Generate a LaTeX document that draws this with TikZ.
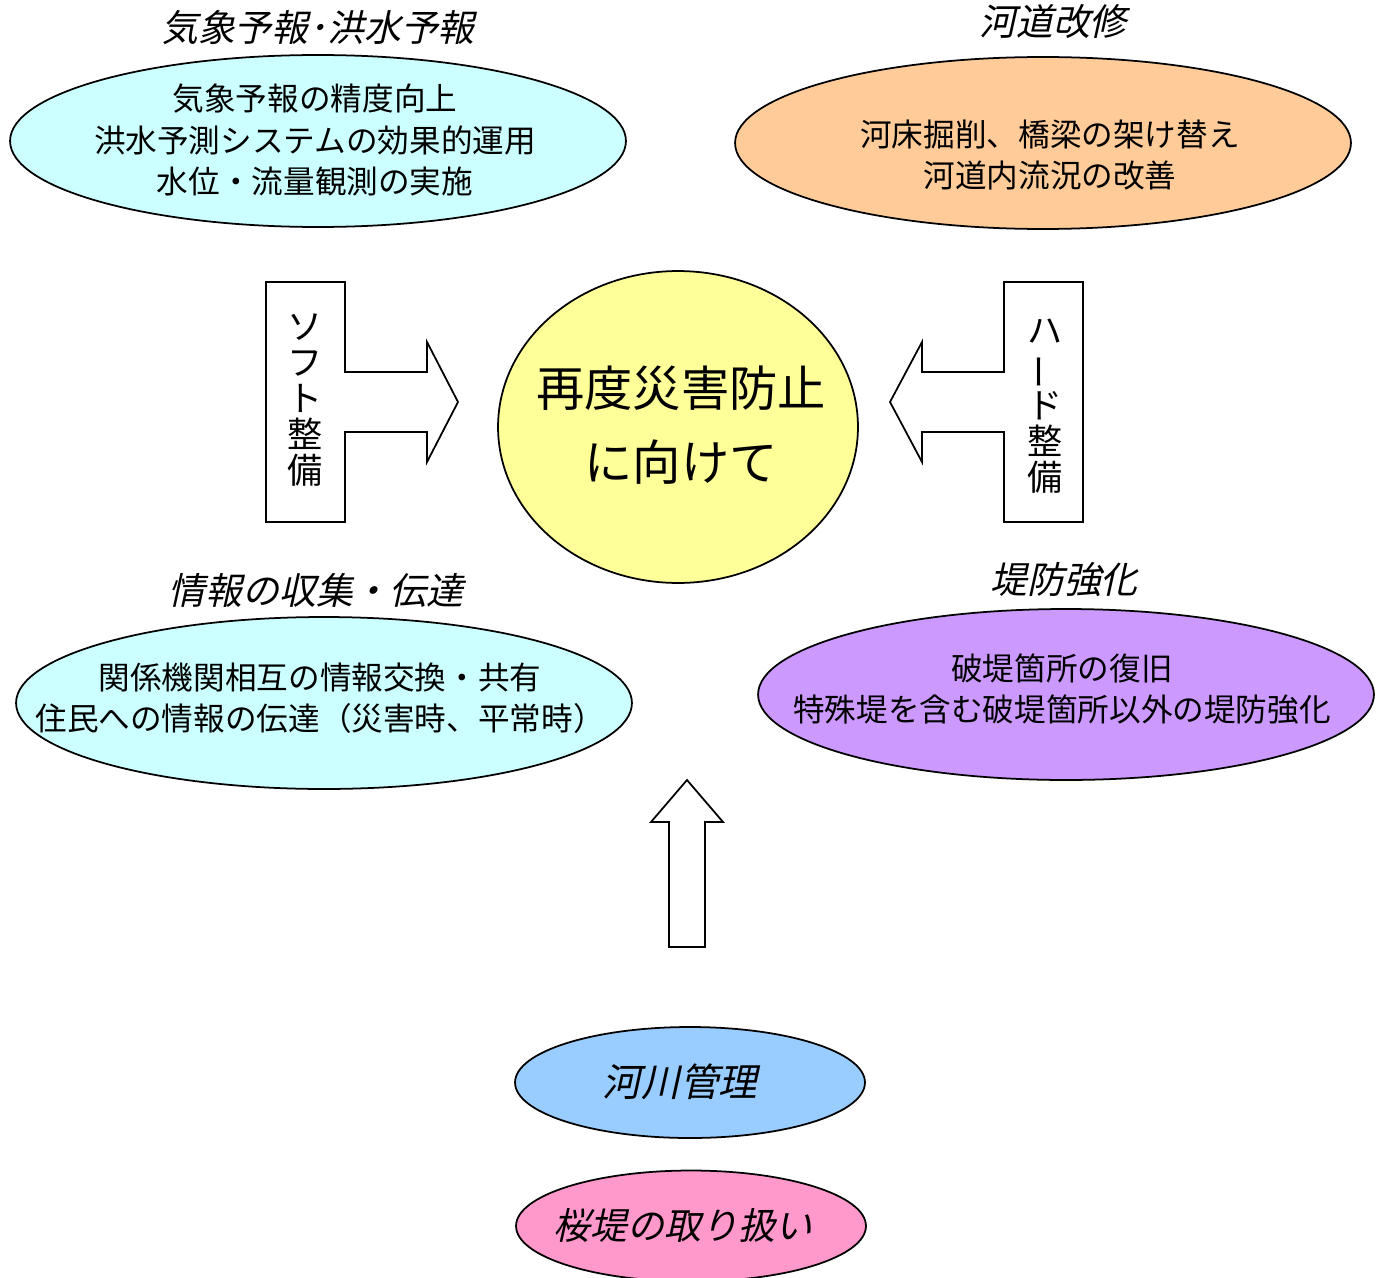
\documentclass[tikz,border=0pt]{standalone}
\usepackage{fontspec}
\setmainfont{Noto Sans CJK JP}
\newfontfamily\jpit{Noto Sans CJK JP}[FakeSlant=0.22]
\usetikzlibrary{shapes.geometric}
\definecolor{cyanF}{HTML}{CCFFFF}
\definecolor{orangeF}{HTML}{FFCC99}
\definecolor{yellowF}{HTML}{FFFF99}
\definecolor{purpleF}{HTML}{CC99FF}
\definecolor{blueF}{HTML}{99CCFF}
\definecolor{pinkF}{HTML}{FF99CC}
\begin{document}
\begin{tikzpicture}[x=0.02cm,y=-0.02cm,
  ell/.style={ellipse, draw=black, line width=1pt, inner sep=0pt},
  bigell/.style={ell, minimum width=12.32cm, minimum height=3.44cm},
  smallell/.style={ell, minimum width=7cm, minimum height=2.22cm},
  body/.style={align=center, inner sep=0pt, font=\fontsize{18}{23.5}\selectfont},
  ttl/.style={inner sep=0pt, font=\jpit\fontsize{21}{24}\selectfont},
  vtxt/.style={align=center, inner sep=0pt, font=\fontsize{20}{20.5}\selectfont},
  arr/.style={draw=black, line width=1pt, fill=white, line join=miter}]
\useasboundingbox (0,0) rectangle (1385,1277);

% ellipses
\node[bigell, fill=cyanF] (e1) at (318,141) {};
\node[bigell, fill=orangeF] (e2) at (1043,143) {};
\node[bigell, fill=cyanF] (e3) at (324,703) {};
\node[bigell, fill=purpleF, minimum height=3.42cm] (e4) at (1066,694.5) {};
\node[ell, fill=yellowF, minimum width=7.2cm, minimum height=6.24cm] (c) at (678,427) {};
\node[smallell, fill=blueF] (e5) at (690,1082.5) {};
\node[smallell, fill=pinkF] (e6) at (691,1226) {};

% titles
\node[ttl] (t1) at (318,28) {気象予報･洪水予報};
\node[ttl] (t2) at (1053,22) {河道改修};
\node[ttl] (t3) at (316,590) {情報の収集・伝達};
\node[ttl] (t4) at (1064,580) {堤防強化};

% body texts
\node[body] (b1) at (315,140) {気象予報の精度向上\\洪水予測システムの効果的運用\\水位・流量観測の実施};
\node[body] (b2) at (1050,155) {河床掘削、橋梁の架け替え\\河道内流況の改善};
\node[body] (b3) at (320,698) {関係機関相互の情報交換・共有\\住民への情報の伝達（災害時、平常時）};
\node[body] (b4) at (1062,689) {破堤箇所の復旧\\特殊堤を含む破堤箇所以外の堤防強化};

\node[align=center, inner sep=0pt, font=\fontsize{27.5}{42}\selectfont] (ct) at (681,425) {再度災害防止\\に向けて};

\node[ttl, font=\jpit\fontsize{22}{24}\selectfont] (m1) at (680,1082) {河川管理};
\node[ttl, font=\jpit\fontsize{21}{24}\selectfont] (m2) at (683,1226) {桜堤の取り扱い};

% arrows
\draw[arr] (266,282) -- (345,282) -- (345,372) -- (427,372) -- (427,342) -- (458,402)
  -- (427,462) -- (427,432) -- (345,432) -- (345,522) -- (266,522) -- cycle;
\draw[arr] (1083,282) -- (1004,282) -- (1004,372) -- (922,372) -- (922,342) -- (890,402)
  -- (922,462) -- (922,432) -- (1004,432) -- (1004,522) -- (1083,522) -- cycle;
\draw[arr] (669,947) -- (669,822) -- (651,822) -- (687,780) -- (723,822) -- (705,822)
  -- (705,947) -- cycle;

\node[vtxt] (v1) at (305.5,400) {ソ\\フ\\ト\\整\\備};
\node[vtxt] (v2) at (1045,406) {ハ\\\rotatebox[origin=c]{90}{ー}\\ド\\整\\備};
\end{tikzpicture}
\end{document}
